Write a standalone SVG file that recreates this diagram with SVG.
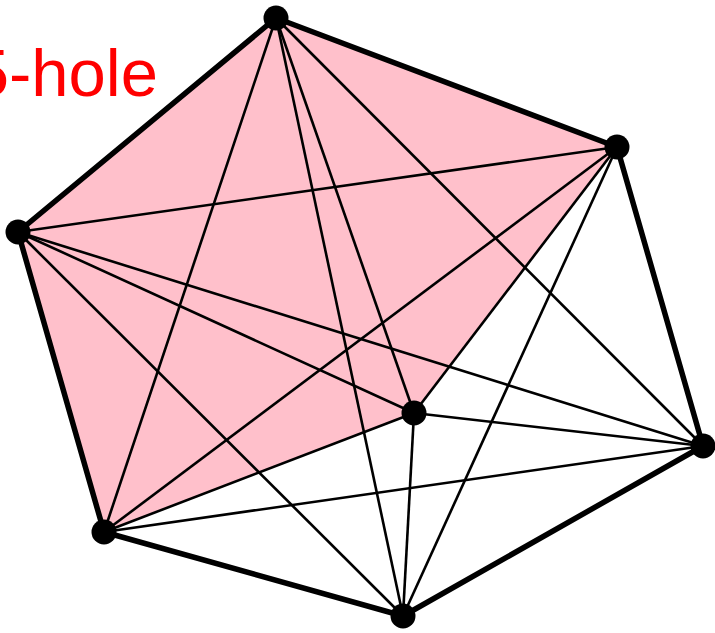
<svg xmlns="http://www.w3.org/2000/svg" width="715" height="633" viewBox="0 0 715 633">
<style>
.hole{fill:#FFC0CB;stroke:none}
.e{stroke:#000;stroke-width:2.6;fill:none}
.h{stroke:#000;stroke-width:5.5;fill:none;stroke-linejoin:round}
.p{fill:#000}
.lbl{font-family:"Liberation Sans",Arial,sans-serif;font-size:67px;fill:#FF0000}
</style>
<rect width="715" height="633" fill="#fff"/>
<polygon class="hole" points="276,18 617,147 414,413 104,532 18,232"/>
<text class="lbl" x="158" y="96" text-anchor="end">5-hole</text>
<g id="connectors">
<line class="e" x1="276" y1="18" x2="104" y2="532"/>
<line class="e" x1="276" y1="18" x2="414" y2="413"/>
<line class="e" x1="276" y1="18" x2="403" y2="616"/>
<line class="e" x1="276" y1="18" x2="703" y2="446"/>
<line class="e" x1="617" y1="147" x2="18" y2="232"/>
<line class="e" x1="617" y1="147" x2="104" y2="532"/>
<line class="e" x1="617" y1="147" x2="414" y2="413"/>
<line class="e" x1="617" y1="147" x2="403" y2="616"/>
<line class="e" x1="18" y1="232" x2="414" y2="413"/>
<line class="e" x1="18" y1="232" x2="703" y2="446"/>
<line class="e" x1="18" y1="232" x2="403" y2="616"/>
<line class="e" x1="414" y1="413" x2="104" y2="532"/>
<line class="e" x1="414" y1="413" x2="403" y2="616"/>
<line class="e" x1="414" y1="413" x2="703" y2="446"/>
<line class="e" x1="703" y1="446" x2="104" y2="532"/>
<polygon class="h" points="276,18 617,147 703,446 403,616 104,532 18,232"/>
</g>
<g id="nA"><circle class="p" cx="276" cy="18" r="12.5"/></g>
<g id="nB"><circle class="p" cx="617" cy="147" r="12.5"/></g>
<g id="nC"><circle class="p" cx="18" cy="232" r="12.5"/></g>
<g id="nD"><circle class="p" cx="414" cy="413" r="12.5"/></g>
<g id="nE"><circle class="p" cx="703" cy="446" r="12.5"/></g>
<g id="nF"><circle class="p" cx="104" cy="532" r="12.5"/></g>
<g id="nG"><circle class="p" cx="403" cy="616" r="12.5"/></g>
</svg>
